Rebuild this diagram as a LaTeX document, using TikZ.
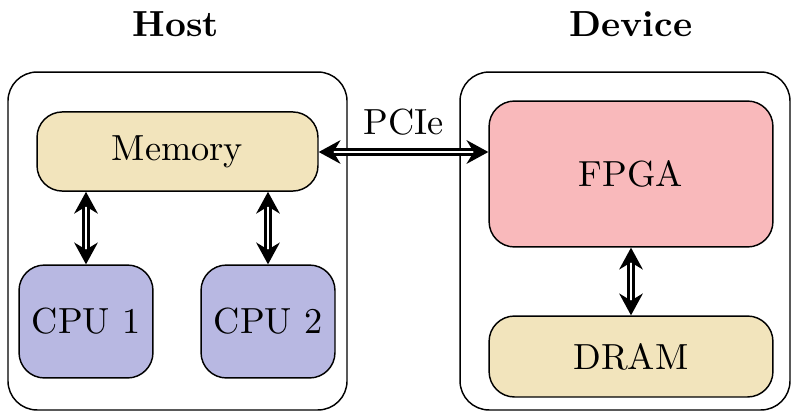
\documentclass[tikz,border=0pt]{standalone}
\usepackage{amsmath}
\usepackage{amssymb}
\usetikzlibrary{arrows.meta}

\definecolor{memcolor}{RGB}{242,228,188}
\definecolor{fpgacolor}{RGB}{249,185,187}
\definecolor{cpucolor}{RGB}{184,184,226}

\begin{document}
\begin{tikzpicture}[x=0.2755pt, y=-0.2755pt,
    outer/.style={rectangle, draw, rounded corners=8pt},
    inner/.style={rectangle, draw, rounded corners=7pt},
    link/.style={double, double distance=0.7pt, line width=0.75pt,
      {Stealth[length=6pt,width=6.5pt]}-{Stealth[length=6pt,width=6.5pt]}}]
    \useasboundingbox (0,0) rectangle (791,412);
    % Define nodes
    \node (host) at (177.5,241) [outer, minimum width=93.4pt, minimum height=93.1pt] {};
    \node (device) at (625,241) [outer, minimum width=90.9pt, minimum height=93.1pt] {};
    \node (hostlabel) at (176,24) {\textbf{Host}};
    \node (devlabel) at (631,24) {\textbf{Device}};
    \node (mem) at (177.5,151.5) [inner, fill=memcolor, minimum width=77.4pt, minimum height=21.8pt] {Memory};
    \node (cpu1) at (86,321.5) [inner, fill=cpucolor, minimum width=36.9pt, minimum height=31.1pt] {CPU 1};
    \node (cpu2) at (268,321.5) [inner, fill=cpucolor, minimum width=36.9pt, minimum height=31.1pt] {CPU 2};
    \node (fpga) at (631,174) [inner, fill=fpgacolor, minimum width=78.2pt, minimum height=40.2pt] {FPGA};
    \node (dram) at (631,356.5) [inner, fill=memcolor, minimum width=78.2pt, minimum height=22.3pt] {DRAM};
    \node (pcie) at (404,122) {PCIe};
    
    % Draw arrows
    \draw[link] (mem.east |- 0,152) -- (fpga.west |- 0,152);
    \draw[link] (mem.south -| cpu1) -- (cpu1.north);
    \draw[link] (mem.south -| cpu2) -- (cpu2.north);
    \draw[link] (fpga.south) -- (dram.north);
\end{tikzpicture}
\end{document}
